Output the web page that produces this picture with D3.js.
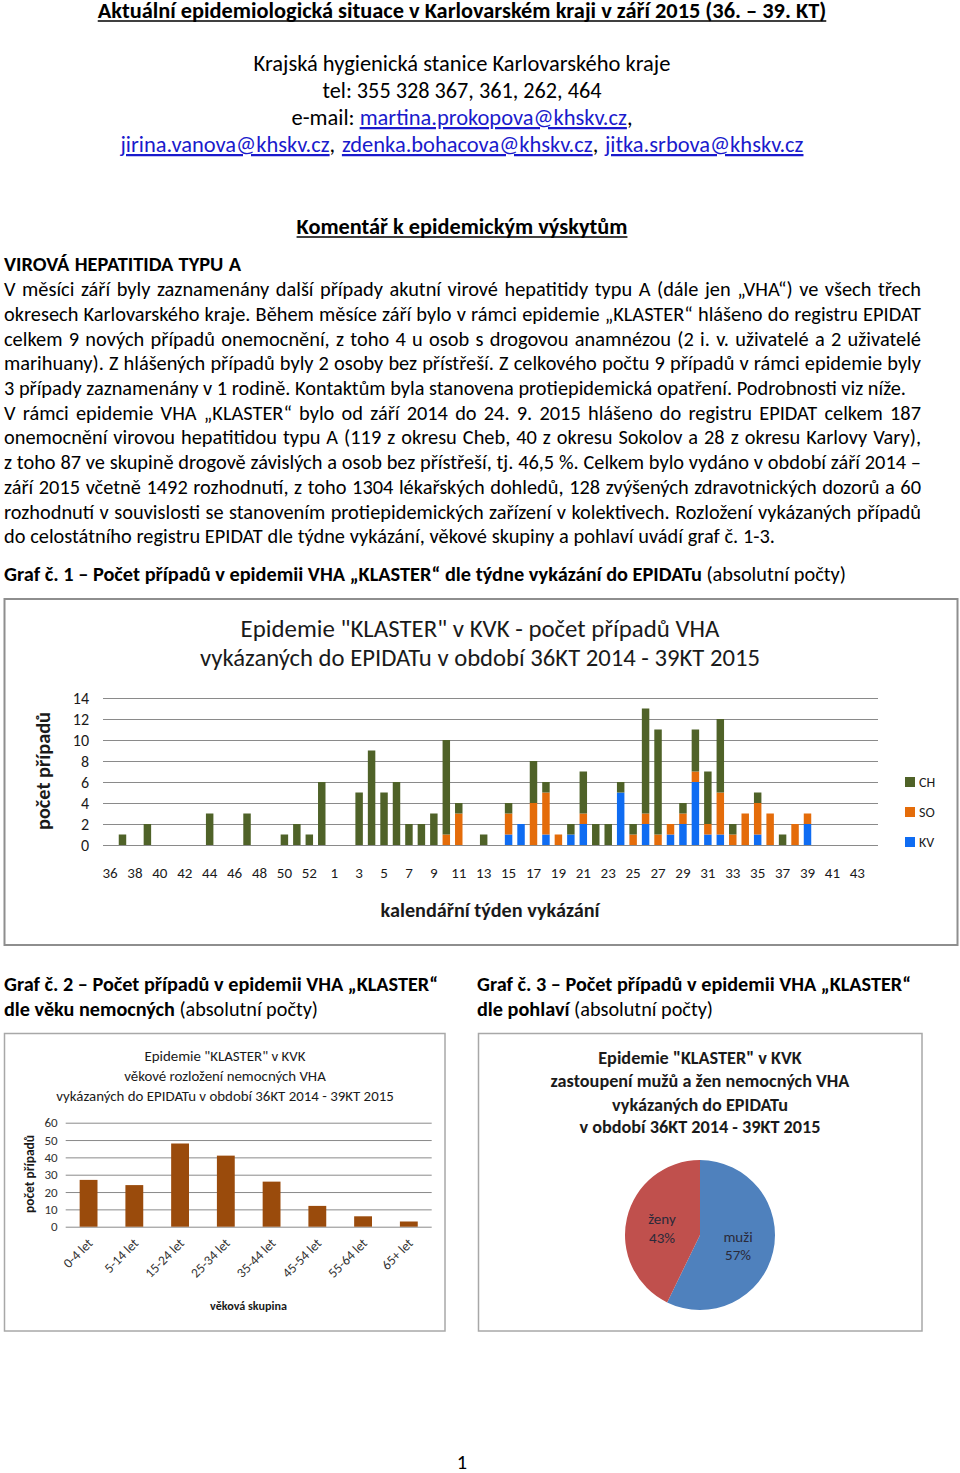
<!DOCTYPE html>
<html><head><meta charset="utf-8">
<script src="https://cdn.jsdelivr.net/npm/d3@7"></script>
<style>
html,body{margin:0;padding:0;background:#fff;}
svg{display:block;}
text{font-family: Carlito, Lato, 'Noto Sans', sans-serif;}
</style></head><body>
<svg id="page" width="960" height="1473"></svg>
<script>
// ---------------- DATA ----------------
// Chart 1: weekly cases (weeks 36-53 of 2014, weeks 1-44 of 2015)
const weekLabels = ["36","37","38","39","40","41","42","43","44","45","46","47","48","49","50","51","52","53",
  "1","2","3","4","5","6","7","8","9","10","11","12","13","14","15","16","17","18","19","20","21","22",
  "23","24","25","26","27","28","29","30","31","32","33","34","35","36","37","38","39","40","41","42","43","44"];
const seriesNames = ["KV","SO","CH"];
const legendOrder = ["CH","SO","KV"];
const valuesCH = [0,1,0,2,0,0,0,0,3,0,0,3,0,0,1,2,1,6,
  0,0,5,9,5,6,2,2,3,9,1,0,1,0,1,0,4,1,0,1,4,2,
  2,1,1,10,10,0,1,4,5,7,1,0,1,0,1,0,0,0,0,0,0,0];
const valuesSO = [0,0,0,0,0,0,0,0,0,0,0,0,0,0,0,0,0,0,
  0,0,0,0,0,0,0,0,0,1,3,0,0,0,2,0,4,4,1,0,1,0,
  0,0,1,1,1,1,1,1,1,4,1,3,3,3,0,2,1,0,0,0,0,0];
const valuesKV = [0,0,0,0,0,0,0,0,0,0,0,0,0,0,0,0,0,0,
  0,0,0,0,0,0,0,0,0,0,0,0,0,0,1,2,0,1,0,1,2,0,
  0,5,0,2,0,1,2,6,1,1,0,0,1,0,0,0,2,0,0,0,0,0];
const yTicks1 = [0,2,4,6,8,10,12,14];
// Chart 2: age groups
const ageGroups = ["0-4 let","5-14 let","15-24 let","25-34 let","35-44 let","45-54 let","55-64 let","65+ let"];
const ageValues = [27,24,48,41,26,12,6,3];
const yTicks2 = [0,10,20,30,40,50,60];
// Chart 3: sex
const sexLabels = ["muži","ženy"];
const sexValues = [107,80];
const sexPercents = ["57%","43%"];

// ---------------- HELPERS ----------------
const svg = d3.select('#page');
function txt(parent, x, y, s, size, weight, anchor, fill){
  return parent.append('text').attr('x',x).attr('y',y).attr('font-size',size)
    .attr('font-weight',weight||'normal').attr('text-anchor',anchor||'start')
    .attr('fill',fill||'#000').text(s);
}
function tw(t){ return t.node().getComputedTextLength(); }
function fitSize(t, w){ const fs=+t.attr('font-size'); t.attr('font-size', fs*w/tw(t)); return t; }
// make a line exactly w wide: widen by word spacing, narrow by condensing glyphs
function justify(t, w){
  const n=tw(t); const sp=(t.text().match(/ /g)||[]).length;
  if(n < w && sp){ t.style('word-spacing', ((w-n)/sp)+'px'); }
  else if(n > w){ t.attr('textLength', w).attr('lengthAdjust','spacingAndGlyphs'); }
  return t;
}
function underline(t, off, th, col){
  const b=t.node().getBBox(); const y=+t.attr('y')+off;
  svg.append('line').attr('x1',b.x).attr('x2',b.x+b.width).attr('y1',y).attr('y2',y)
    .attr('stroke',col||'#000').attr('stroke-width',th);
}

const bodyLines = [
 ["V měsíci září byly zaznamenány další případy akutní virové hepatitidy typu A (dále jen „VHA“) ve všech třech", 296, 917],
 ["okresech Karlovarského kraje. Během měsíce září bylo v rámci epidemie „KLASTER“ hlášeno do registru EPIDAT", 321, 917],
 ["celkem 9 nových případů onemocnění, z toho 4 u osob s drogovou anamnézou (2 i. v. uživatelé a 2 uživatelé", 346, 917],
 ["marihuany). Z hlášených případů byly 2 osoby bez přístřeší. Z celkového počtu 9 případů v rámci epidemie byly", 370, 917],
 ["3 případy zaznamenány v 1 rodině. Kontaktům byla stanovena protiepidemická opatření. Podrobnosti viz níže.", 395, 902],
 ["V rámci epidemie VHA „KLASTER“ bylo od září 2014 do 24. 9. 2015 hlášeno do registru EPIDAT celkem 187", 420, 917],
 ["onemocnění virovou hepatitidou typu A (119 z okresu Cheb, 40 z okresu Sokolov a 28 z okresu Karlovy Vary),", 444, 917],
 ["z toho 87 ve skupině drogově závislých a osob bez přístřeší, tj. 46,5 %. Celkem bylo vydáno v období září 2014 –", 469, 917],
 ["září 2015 včetně 1492 rozhodnutí, z toho 1304 lékařských dohledů, 128 zvýšených zdravotnických dozorů a 60", 494, 917],
 ["rozhodnutí v souvislosti se stanovením protiepidemických zařízení v kolektivech. Rozložení vykázaných případů", 519, 917],
 ["do celostátního registru EPIDAT dle týdne vykázání, věkové skupiny a pohlaví uvádí graf č. 1-3.", 543, 771]
];
// body font size: the unjustified paragraph ends give natural widths
const probeA = txt(svg, 4, bodyLines[4][1], bodyLines[4][0], 20); fitSize(probeA, bodyLines[4][2]);
const probeB = txt(svg, 4, bodyLines[10][1], bodyLines[10][0], 20); fitSize(probeB, bodyLines[10][2]);
const BODY = (+probeA.attr('font-size') + +probeB.attr('font-size'))/2;
probeA.remove(); probeB.remove();

// ---------------- HEADER ----------------
const h1 = txt(svg, 462, 18, "Aktuální epidemiologická situace v Karlovarském kraji v září 2015 (36. – 39. KT)", 20, 'bold','middle');
fitSize(h1, 729); underline(h1, 3, 1.4);
const kr = txt(svg, 462, 71, "Krajská hygienická stanice Karlovarského kraje", 20, 'normal','middle');
fitSize(kr, 417);
const HEAD = +kr.attr('font-size');
justify(txt(svg, 462, 98, "tel: 355 328 367, 361, 262, 464", HEAD, 'normal','middle'), 279);
const LINK = '#1a1acc';
const em = svg.append('text').attr('x',462).attr('y',125).attr('font-size',HEAD).attr('text-anchor','middle');
em.append('tspan').text('e-mail: ');
em.append('tspan').attr('fill',LINK).style('text-decoration','underline').text('martina.prokopova@khskv.cz');
em.append('tspan').text(',');
justify(em, 341);
const em2 = svg.append('text').attr('x',462).attr('y',152).attr('font-size',HEAD).attr('text-anchor','middle');
["jirina.vanova@khskv.cz",", ","zdenka.bohacova@khskv.cz",", ","jitka.srbova@khskv.cz"].forEach((s,i)=>{
  const ts = em2.append('tspan').text(s);
  if(i%2===0) ts.attr('fill',LINK).style('text-decoration','underline');
});
justify(em2, 683);

const kom = txt(svg, 462, 234, "Komentář k epidemickým výskytům", 20, 'bold','middle');
fitSize(kom, 331); underline(kom, 3, 1.4);

justify(txt(svg, 4, 271, "VIROVÁ HEPATITIDA TYPU A", BODY, 'bold'), 237);

bodyLines.forEach(([s,y,w])=>{ justify(txt(svg, 4, y, s, BODY), w); });

function caption(x, y, boldPart, normalPart, w){
  const t = svg.append('text').attr('x',x).attr('y',y).attr('font-size',BODY);
  t.append('tspan').attr('font-weight','bold').text(boldPart);
  t.append('tspan').text(normalPart);
  justify(t, w); return t;
}
caption(4, 581, "Graf č. 1 – Počet případů v epidemii VHA „KLASTER“ dle týdne vykázání do EPIDATu", " (absolutní počty)", 842);
caption(4, 991, "Graf č. 2 – Počet případů v epidemii VHA „KLASTER“", "", 434);
caption(4, 1016, "dle věku nemocných", " (absolutní počty)", 314);
caption(477, 991, "Graf č. 3 – Počet případů v epidemii VHA „KLASTER“", "", 434);
caption(477, 1016, "dle pohlaví", " (absolutní počty)", 236);

txt(svg, 462, 1469, "1", BODY, 'normal', 'middle');

// ---------------- CHART 1 ----------------
const c1 = svg.append('g');
c1.append('rect').attr('x',4.5).attr('y',599).attr('width',953).attr('height',346)
  .attr('fill','none').attr('stroke','#8e8e8e').attr('stroke-width',2);
const x1 = d3.scaleBand().domain(d3.range(weekLabels.length)).range([103.8, 876]).paddingInner(0.4).paddingOuter(0.2);
const y1 = d3.scaleLinear().domain([0,14]).range([845,698]);
const ax1 = c1.append('g').attr('transform','translate(103,0)')
  .call(d3.axisLeft(y1).tickValues(yTicks1).tickSize(-775).tickPadding(14));
ax1.select('.domain').remove();
ax1.selectAll('line').attr('stroke','#8a8a8a').attr('stroke-width',1.2);
ax1.selectAll('text').attr('font-size',16).attr('fill','#1a1a1a').style('font-family',"Carlito, Lato, sans-serif");
const colors = {CH:'#4f6228', SO:'#e46c0a', KV:'#0f6cf2'};
const rows = weekLabels.map((w,i)=>({KV:valuesKV[i], SO:valuesSO[i], CH:valuesCH[i]}));
const stacked = d3.stack().keys(seriesNames)(rows);
c1.selectAll('g.ser').data(stacked).join('g').attr('fill',d=>colors[d.key])
  .selectAll('rect').data(d=>d.map((v,i)=>({v,i}))).join('rect')
  .attr('x',d=>x1(d.i)).attr('width',x1.bandwidth())
  .attr('y',d=>y1(d.v[1])).attr('height',d=>y1(d.v[0])-y1(d.v[1]));
const xa1 = c1.append('g').attr('transform','translate(0,845)')
  .call(d3.axisBottom(x1).tickValues(d3.range(0,weekLabels.length,2)).tickFormat(i=>weekLabels[i]).tickSize(0).tickPadding(22));
xa1.select('.domain').remove();
xa1.selectAll('text').attr('font-size',15).attr('fill','#1a1a1a').style('font-family',"Carlito, Lato, sans-serif");
// title
const t1a = txt(c1, 480, 637, 'Epidemie "KLASTER" v KVK - počet případů  VHA', 22, 'normal','middle','#1a1a1a');
fitSize(t1a, 479);
const t1b = txt(c1, 480, 666, 'vykázaných do EPIDATu v období  36KT 2014 - 39KT 2015', +t1a.attr('font-size'), 'normal','middle','#1a1a1a');
justify(t1b, 560);
const yt1 = c1.append('text').attr('transform','translate(50,771) rotate(-90)').attr('text-anchor','middle')
  .attr('font-size',19).attr('font-weight','bold').attr('fill','#1a1a1a').text('počet případů');
fitSize(yt1, 118);
const xt1 = txt(c1, 490, 917, 'kalendářní týden vykázání', 18, 'bold','middle','#1a1a1a'); fitSize(xt1, 219);
// legend
const lg = c1.selectAll('g.lg').data(legendOrder).join('g').attr('transform',(d,i)=>`translate(905,${782+i*30})`);
lg.append('rect').attr('x',0).attr('y',-5).attr('width',10).attr('height',10).attr('fill',d=>colors[d]);
lg.append('text').attr('x',14).attr('y',5).attr('font-size',14).attr('fill','#1a1a1a').text(d=>d);

// ---------------- CHART 2 ----------------
const c2 = svg.append('g');
c2.append('rect').attr('x',4.5).attr('y',1033.5).attr('width',440.5).attr('height',297.5)
  .attr('fill','none').attr('stroke','#a8a8a8').attr('stroke-width',1.5);
const x2 = d3.scaleBand().domain(ageGroups).range([65.7, 431.7]).paddingInner(0.61).paddingOuter(0.305);
const y2 = d3.scaleLinear().domain([0,60]).range([1226.7,1122.7]);
const ax2 = c2.append('g').attr('transform','translate(65.7,0)')
  .call(d3.axisLeft(y2).tickValues(yTicks2).tickSize(-366).tickPadding(8));
ax2.select('.domain').remove();
ax2.selectAll('line').attr('stroke','#8a8a8a').attr('stroke-width',1);
ax2.selectAll('text').attr('font-size',13).attr('fill','#333').style('font-family',"Carlito, Lato, sans-serif");
c2.selectAll('rect.bar').data(ageGroups).join('rect').attr('class','bar')
  .attr('x',d=>x2(d)).attr('width',x2.bandwidth())
  .attr('y',(d,i)=>y2(ageValues[i])).attr('height',(d,i)=>y2(0)-y2(ageValues[i]))
  .attr('fill','#9a4b0c');
c2.selectAll('text.xl').data(ageGroups).join('text').attr('class','xl')
  .attr('transform',d=>`translate(${x2(d)+x2.bandwidth()/2+5},1244) rotate(-45)`)
  .attr('text-anchor','end').attr('font-size',13.5).attr('fill','#333').text(d=>d);
const t2 = [
  ['Epidemie "KLASTER" v KVK', 1061],
  ['věkové rozložení nemocných VHA', 1081],
  ['vykázaných do EPIDATu v období  36KT 2014 - 39KT 2015', 1101]
].map(([s,y])=>txt(c2, 225, y, s, 14, 'normal','middle','#1a1a1a'));
fitSize(t2[2], 338);
t2.forEach(t=>t.attr('font-size', t2[2].attr('font-size')));
const yt2 = c2.append('text').attr('transform','translate(34,1174) rotate(-90)').attr('text-anchor','middle')
  .attr('font-size',12).attr('font-weight','bold').attr('fill','#1a1a1a').text('počet případů');
fitSize(yt2, 78);
const xt2 = txt(c2, 248.5, 1310, 'věková skupina', 12, 'bold','middle','#1a1a1a'); fitSize(xt2, 77);

// ---------------- CHART 3 ----------------
const c3 = svg.append('g');
c3.append('rect').attr('x',478.5).attr('y',1033.5).attr('width',443.5).attr('height',297.5)
  .attr('fill','none').attr('stroke','#a8a8a8').attr('stroke-width',1.5);
const t3 = [
  ['Epidemie "KLASTER" v KVK', 1064],
  ['zastoupení mužů a žen nemocných VHA', 1087],
  ['vykázaných do EPIDATu', 1111],
  ['v období  36KT 2014 - 39KT 2015', 1133]
].map(([s,y])=>txt(c3, 700, y, s, 16, 'bold','middle','#1a1a1a'));
fitSize(t3[1], 299);
t3.forEach(t=>t.attr('font-size', t3[1].attr('font-size')));
const pieColors = ['#4f81bd','#c0504d'];
const R = 75;
const pie = d3.pie().sort(null).value(d=>d)(sexValues);
const arc = d3.arc().innerRadius(0).outerRadius(R);
const lab = d3.arc().innerRadius(R*0.52).outerRadius(R*0.52);
const pg = c3.append('g').attr('transform','translate(700,1235)');
pg.selectAll('path').data(pie).join('path').attr('d',arc).attr('fill',(d,i)=>pieColors[i]);
const pl = pg.selectAll('text').data(pie).join('text').attr('text-anchor','middle')
  .attr('transform',d=>{const c=lab.centroid(d); return `translate(${c[0]},${c[1]})`;})
  .attr('font-size',15).attr('fill','#2a2a3a');
pl.append('tspan').attr('x',0).attr('dy','-0.15em').text((d,i)=>sexLabels[i]);
pl.append('tspan').attr('x',0).attr('dy','1.25em').text((d,i)=>sexPercents[i]);
</script>
</body></html>
